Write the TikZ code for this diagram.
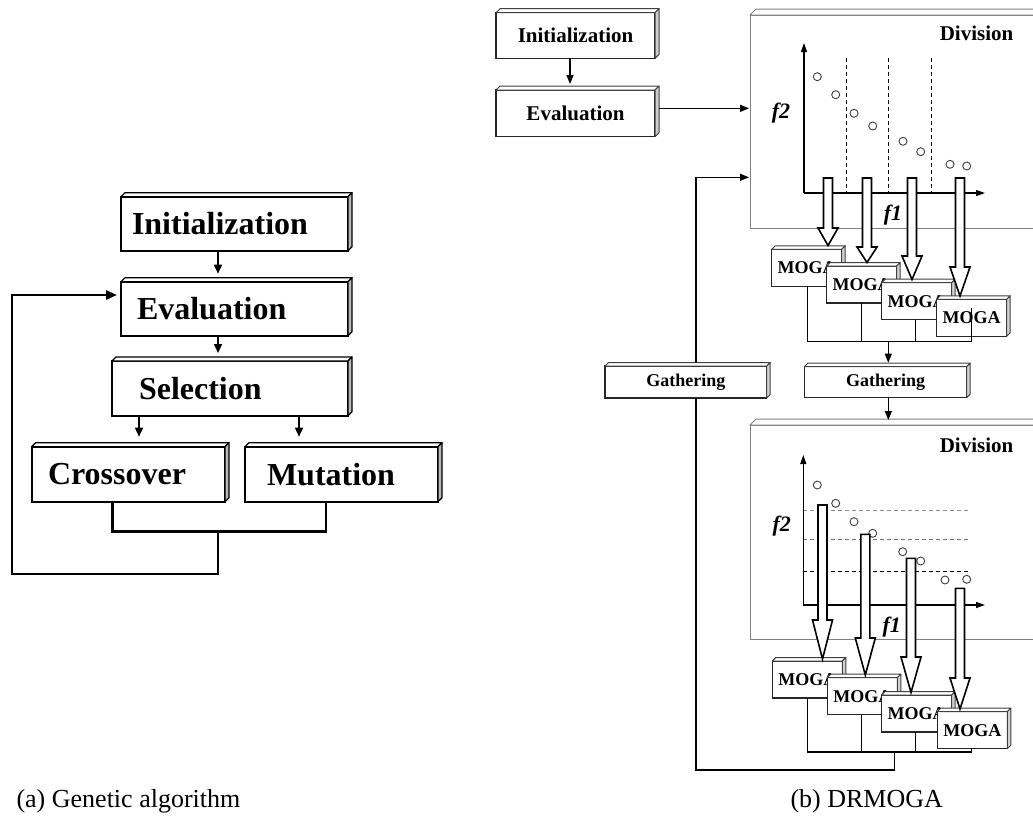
\documentclass[tikz,border=0pt]{standalone}
\usepackage{fontspec}
\setmainfont{Liberation Serif}
\usetikzlibrary{arrows.meta}
\newcommand\threed[4]{% node, depth, line style, side fill
  \filldraw[#3, fill=white, line join=round] (#1.north west) -- ++(#2,-#2) -- ([shift={(#2,-#2)}]#1.north east) -- (#1.north east) -- cycle;
  \filldraw[#3, fill=#4, line join=round] (#1.north east) -- ++(#2,-#2) -- ([shift={(#2,-#2)}]#1.south east) -- (#1.south east) -- cycle;
}
\newcommand\hollowarrow[4]{% cx, top, head start, tip
  \filldraw[harrow] (#1-4.5,#2) -- (#1+4.5,#2) -- (#1+4.5,#3) -- (#1+10,#3) -- (#1,#4) -- (#1-10,#3) -- (#1-4.5,#3) -- cycle;
}
\tikzset{
  abox/.style={draw, line width=1.9pt, fill=white, rectangle, inner ysep=0pt, outer sep=0pt,
    font=\fontsize{32}{36}\selectfont\bfseries, align=left, anchor=north west},
  aside/.style={line width=1.3pt},
  aarr/.style={line width=1.6pt, -{Triangle[length=9pt,width=8pt]}},
  aloop/.style={line width=2.8pt},
  bbox/.style={draw=black!85, line width=1.2pt, fill=white, rectangle, inner sep=0pt, outer sep=0pt,
    font=\fontsize{21}{24}\selectfont\bfseries, align=center, anchor=north west},
  gbox/.style={bbox, font=\fontsize{18}{21}\selectfont\bfseries},
  mbox/.style={bbox, font=\fontsize{18}{21}\selectfont\bfseries, minimum width=70, minimum height=37},
  bside/.style={draw=black!75, line width=1pt},
  divbox/.style={draw=black!50, line width=1pt, fill=white, rectangle, inner sep=0pt, outer sep=0pt, anchor=north west},
  divside/.style={draw=black!50, line width=1pt},
  divlab/.style={font=\fontsize{21}{24}\selectfont\bfseries},
  flab/.style={font=\fontsize{22}{24}\selectfont\bfseries\itshape},
  rarr/.style={line width=1.2pt, -{Triangle[length=9pt,width=7pt]}},
  rline/.style={line width=1.2pt},
  axis/.style={line width=1.2pt, -{Triangle[length=9pt,width=6pt]}},
  dline/.style={line width=1pt, dash pattern=on 4pt off 3pt},
  pt/.style={draw=black!75, line width=0.9pt, fill=white},
  harrow/.style={draw=black, fill=white, line width=1.6pt, line join=miter},
  captext/.style={font=\fontsize{26}{30}\selectfont, anchor=west},
}
\begin{document}
\begin{tikzpicture}[x=1pt,y=-1pt]
\useasboundingbox (0,0) rectangle (1033,817);
\clip (0,0) rectangle (1033,817);

% ---------------- (a) Genetic algorithm ----------------
\node[abox, minimum width=227, minimum height=54, inner xsep=11, text width=205] (ainit) at (121,196.7) {Initialization};
\threed{ainit}{4}{aside}{gray!55}
\node[abox, minimum width=227, minimum height=54, inner xsep=16, text width=195] (aeval) at (121,281.7) {Evaluation};
\threed{aeval}{4}{aside}{gray!55}
\node[abox, minimum width=236, minimum height=54.7, inner xsep=27, text width=182] (asel) at (112,361) {Selection};
\threed{asel}{4}{aside}{gray!55}
\node[abox, minimum width=193.3, minimum height=55, inner xsep=16.3, text width=160.7] (across) at (31.7,446.7) {Crossover};
\threed{across}{4}{aside}{gray!55}
\node[abox, minimum width=193, minimum height=55, inner xsep=22, text width=149] (amut) at (245,446.7) {Mutation};
\threed{amut}{4}{aside}{gray!55}

\draw[aarr, shorten >=8pt] (218,0 |- ainit.south) -- (218,0 |- aeval.north);
\draw[aarr, shorten >=8pt] (218,0 |- aeval.south) -- (218,0 |- asel.north);
\draw[aarr, shorten >=10pt] (139,0 |- asel.south) -- (139,0 |- across.north);
\draw[aarr, shorten >=10pt] (299,0 |- asel.south) -- (299,0 |- amut.north);
\draw[aloop, line join=miter] (112.7,0 |- across.south) -- (112.7,531.7) -- (326,531.7) -- (326,0 |- amut.south);
\coordinate (ajoin) at (218,531.7);
\draw[aloop, line join=miter, -{Triangle[length=11pt,width=9pt]}, shorten >=4pt]
  (ajoin) -- (218,574) -- (12,574) -- (12,295) -- (aeval.west |- 0,295);

\node[captext] (capa) at (13,801) {(a) Genetic algorithm};

% ---------------- (b) DRMOGA ----------------
\node[bbox, minimum width=159, minimum height=45.6] (binit) at (496,12.7) {Initialization};
\threed{binit}{4}{bside}{gray!40}
\node[bbox, minimum width=159, minimum height=46.7] (beval) at (496,90) {Evaluation};
\threed{beval}{4}{bside}{gray!40}
\draw[rarr, shorten >=6pt] (570,0 |- binit.south) -- (570,0 |- beval.north);

% upper division
\node[divbox, minimum width=300, minimum height=213.3] (div1) at (750,15) {};
\threed{div1}{6}{divside}{white}
\node[divlab] (d1lab) at (976.5,33) {Division};
\draw[rarr, shorten <=4pt, shorten >=1pt] (beval.east |- 0,108.3) -- (div1.west |- 0,108.3);
\foreach \x in {846,888,931} \draw[dline] (\x,58) -- (\x,193);
\draw[axis] (804,193) -- (804,43);
\draw[axis] (804,193) -- (985,193);
\node[flab] (f2a) at (781,113) {f2};
\node[flab] (f1a) at (893,215) {f1};
\foreach \x/\y in {817.3/76.7, 835.7/94.7, 854/113.3, 872.7/126, 903/141.3, 920.7/151.7, 950/164.3, 966.7/166}
  \draw[pt] (\x,\y) circle (4);

% upper MOGAs
\node[mbox] (m1) at (771.7,249.3) {MOGA};
\threed{m1}{3.5}{bside}{gray!35}
\node[mbox] (m2) at (826.7,266) {MOGA};
\threed{m2}{3.5}{bside}{gray!35}
\node[mbox] (m3) at (881.7,282.7) {MOGA};
\threed{m3}{3.5}{bside}{gray!35}
\node[mbox] (m4) at (936.7,299.3) {MOGA};
\threed{m4}{3.5}{bside}{gray!35}

\hollowarrow{828}{178}{228}{245.5}
\hollowarrow{867}{178}{247}{262.5}
\hollowarrow{912}{178}{256}{279.5}
\hollowarrow{960}{178}{267}{296}

\draw[rline] (807.7,0 |- m1.south) -- (807.7,341.7) -- (971.7,341.7) -- (971.7,308);
\draw[rline] (861.7,0 |- m2.south) -- (861.7,341.7);
\draw[rline] (915.7,0 |- m3.south) -- (915.7,341.7);
\coordinate (gj1) at (888.3,341.7);

% gathering boxes
\node[gbox, minimum width=162.4, minimum height=31] (gathR) at (804.3,366.7) {Gathering};
\threed{gathR}{3.5}{bside}{gray!35}
\node[gbox, minimum width=161.7, minimum height=32] (gathL) at (605,366) {Gathering};
\threed{gathL}{3.5}{bside}{gray!35}
\draw[rarr, shorten >=4pt] (gj1) -- (888.3,0 |- gathR.north);

% lower division
\node[divbox, minimum width=300, minimum height=214.7] (div2) at (750,425) {};
\threed{div2}{6}{divside}{white}
\node[divlab] (d2lab) at (976.5,445) {Division};
\draw[rarr, shorten >=5pt] (888.3,0 |- gathR.south) -- (888.3,0 |- div2.north);
\draw[dline, draw=black!45] (803.3,510.7) -- (968.3,510.7);
\draw[dline, draw=black!55] (803.3,539.3) -- (968.3,539.3);
\draw[dline] (803.3,571.7) -- (968.3,571.7);
\draw[axis] (803.3,605) -- (803.3,455);
\draw[axis] (803.3,605) -- (985,605);
\node[flab] (f2b) at (781.7,526) {f2};
\node[flab] (f1b) at (891.7,626.7) {f1};
\foreach \x/\y in {817.3/485, 835.7/503.3, 854/521.7, 872.7/533.3, 902.7/551.7, 920.7/561, 945/580, 966.7/579.3}
  \draw[pt] (\x,\y) circle (4);

% lower MOGAs
\node[mbox] (n1) at (772.3,661) {MOGA};
\threed{n1}{3.5}{bside}{gray!35}
\node[mbox] (n2) at (827.3,677.7) {MOGA};
\threed{n2}{3.5}{bside}{gray!35}
\node[mbox] (n3) at (881.7,695) {MOGA};
\threed{n3}{3.5}{bside}{gray!35}
\node[mbox] (n4) at (937.3,711.7) {MOGA};
\threed{n4}{3.5}{bside}{gray!35}

\hollowarrow{822.5}{505}{620}{659}
\hollowarrow{865.3}{534.3}{638}{675}
\hollowarrow{911}{558.3}{657}{692.5}
\hollowarrow{960}{588.3}{678}{709}

\draw[rline] (807.7,0 |- n1.south) -- (807.7,752) -- (971.7,752) -- (971.7,0 |- n4.south);
\draw[rline] (861.7,0 |- n2.south) -- (861.7,752);
\draw[rline] (915.7,0 |- n3.south) -- (915.7,752);
\coordinate (gj2) at (894.3,752);

% feedback loop
\draw[rline] (gj2) -- (894.3,770) -- (696,770) -- (696,0 |- gathL.south);
\draw[rarr, shorten <=3.5pt, shorten >=1pt] (696,0 |- gathL.north) -- (696,177.3) -- (div1.west |- 0,177.3);

\node[captext] (capb) at (787,801.7) {(b) DRMOGA};
\end{tikzpicture}
\end{document}
